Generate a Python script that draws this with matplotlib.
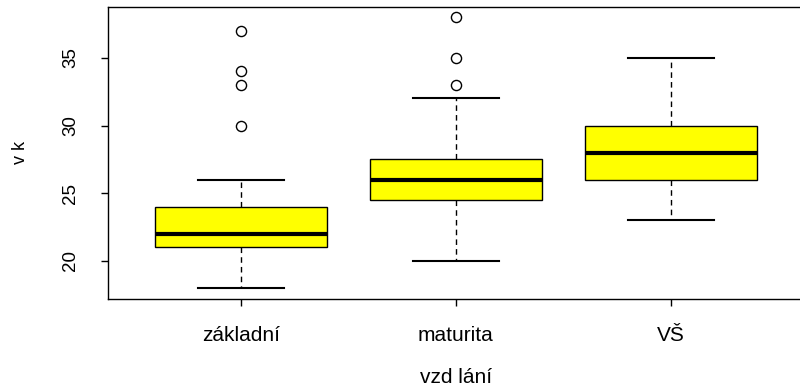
import matplotlib
matplotlib.use("Agg")
import matplotlib.pyplot as plt

plt.rcParams['font.family'] = ['Liberation Sans', 'DejaVu Sans']

# values
groups = ["základní", "maturita", "VŠ"]
whislo = [18, 20, 23]
q1 = [21, 24.5, 26]
med = [22, 26, 28]
q3 = [24, 27.5, 30]
whishi = [26, 32, 35]
outliers = [[30, 33, 34, 37], [33, 35, 38], []]

stats = []
for i, g in enumerate(groups):
    stats.append(dict(label=g, whislo=whislo[i], q1=q1[i], med=med[i],
                      q3=q3[i], whishi=whishi[i], fliers=outliers[i]))

fig = plt.figure(figsize=(8, 3.9), dpi=100)
# R plot region; right edge runs slightly past the image
ax = fig.add_axes([107.5 / 800, 1 - 298.7 / 390, (804 - 107.5) / 800, (298.7 - 6.5) / 390])

ax.bxp(stats, positions=[1, 2, 3], widths=0.8, patch_artist=True,
       boxprops=dict(facecolor='yellow', edgecolor='black', linewidth=1),
       medianprops=dict(color='black', linewidth=3, solid_capstyle='butt'),
       whiskerprops=dict(color='black', linewidth=1, linestyle=(0, (4, 3))),
       capprops=dict(color='black', linewidth=1.5),
       capwidths=0.4,
       flierprops=dict(marker='o', markerfacecolor='none', markeredgecolor='black',
                       markersize=7.3, markeredgewidth=1))

ax.set_xlim(0.38, 3.62)
ax.set_ylim(17.2, 38.8)
ax.set_yticks([20, 25, 30, 35])
ax.set_xticks([1, 2, 3])
ax.set_xticklabels(groups)
for lbl in ax.get_yticklabels():
    lbl.set_rotation(90)
    lbl.set_va('center')

ax.tick_params(axis='both', direction='out', length=5, width=1)
ax.tick_params(axis='x', labelsize=15, pad=15)
ax.tick_params(axis='y', labelsize=13.5, pad=15.5)
for s in ax.spines.values():
    s.set_linewidth(1)

ax.set_xlabel("vzd lání", fontsize=15, labelpad=16)
ax.set_ylabel("v k", fontsize=13, labelpad=24)

fig.savefig("out.png", dpi=100)
